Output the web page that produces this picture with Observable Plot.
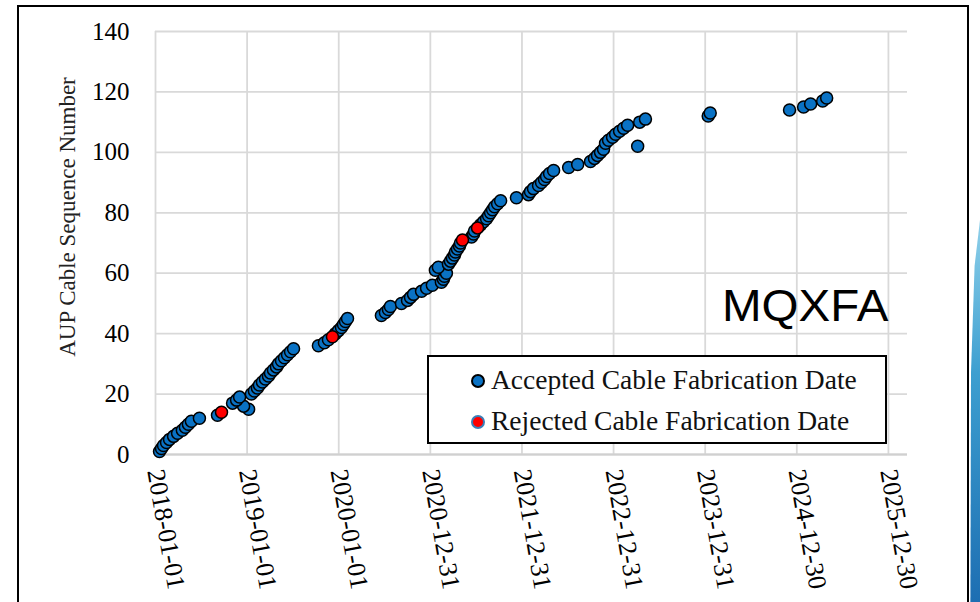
<!DOCTYPE html>
<html>
<head>
<meta charset="utf-8">
<script src="https://cdn.jsdelivr.net/npm/d3@7"></script>
<script src="https://cdn.jsdelivr.net/npm/@observablehq/plot@0.6"></script>
<style>
  html, body { margin: 0; padding: 0; background: #fff; }
  #wrap { position: relative; width: 980px; height: 602px; overflow: hidden; font-family: "Liberation Serif", "Times New Roman", serif; }
  #wrap svg { position: absolute; left: 0; top: 0; font-family: "Liberation Serif", "Times New Roman", serif !important; }
  #wrap svg text { font-family: "Liberation Serif", "Times New Roman", serif !important; fill: #000; }
  #wrap svg g[aria-label="x-axis tick label"] { font-size: 26px !important; }
  #wrap svg g[aria-label="y-axis tick label"] { font-size: 25px !important; }
  .frame { position: absolute; left: 17px; top: 5px; width: 952px; height: 640px; border: 2px solid #000; box-sizing: border-box; pointer-events: none; }
  .ytitle { position: absolute; left: 68px; top: 217px; transform: translate(-50%, -50%) rotate(-90deg); white-space: nowrap; font-size: 23px; color: #222; }
  .legend { position: absolute; left: 427px; top: 355px; width: 460px; height: 89px; border: 2px solid #000; box-sizing: border-box; background: #fff; font-size: 27.5px; color: #111; }
  .legend .row { position: absolute; left: 42px; height: 30px; line-height: 30px; white-space: nowrap; }
  .legend .sw { display: inline-block; width: 10px; height: 10px; border-radius: 50%; vertical-align: middle; margin-right: 6px; position: relative; top: -2px; }
  .mq { position: absolute; left: 722px; top: 281px; font-family: "Liberation Sans", Arial, sans-serif; font-size: 44px; color: #000; transform: scaleX(1.08); transform-origin: 0 0; }
  .deco { position: absolute; left: 968px; top: 220px; width: 12px; height: 382px; background: linear-gradient(180deg, #8fd0ea 0%, #3d9fd0 40%, #1d6eb2 100%); clip-path: polygon(100% 0, 100% 100%, 20% 100%, 25% 40%, 55% 12%); }
</style>
</head>
<body>
<div id="wrap"></div>
<script>
// ---- data ----
const acceptedDates = [
  "2018-01-17","2018-01-25","2018-02-02","2018-02-14","2018-02-26","2018-03-14","2018-03-30","2018-04-18","2018-04-30","2018-05-12",
  "2018-05-24","2018-06-25","2018-09-05","2019-01-07","2018-12-18","2018-11-04","2018-11-20","2018-12-02","2019-01-18","2019-01-30",
  "2019-02-11","2019-02-19","2019-03-03","2019-03-15","2019-03-27","2019-04-04","2019-04-16","2019-04-28","2019-05-06","2019-05-18",
  "2019-05-30","2019-06-11","2019-06-23","2019-07-05","2019-10-12","2019-11-05","2019-11-21","2019-12-19","2019-12-31","2020-01-12",
  "2020-01-20","2020-01-28","2020-02-05","2020-06-19","2020-07-05","2020-07-17","2020-07-25","2020-09-07","2020-10-01","2020-10-13",
  "2020-10-25","2020-11-26","2020-12-16","2021-01-08","2021-02-13","2021-02-21","2021-02-25","2021-03-05","2021-01-20","2021-02-01",
  "2021-03-13","2021-03-21","2021-03-29","2021-04-06","2021-04-10","2021-04-18","2021-04-26","2021-04-30","2021-06-13","2021-06-21",
  "2021-06-25","2021-07-19","2021-07-31","2021-08-12","2021-08-20","2021-08-28","2021-09-05","2021-09-13","2021-09-25","2021-10-07",
  "2021-12-09","2022-01-26","2022-02-03","2022-02-15","2022-03-07","2022-03-19","2022-03-31","2022-04-08","2022-04-20","2022-05-06",
  "2022-07-05","2022-08-10","2022-09-30","2022-10-16","2022-10-28","2022-11-09","2022-11-21","2023-04-06","2022-11-29","2022-12-11",
  "2022-12-27","2023-01-08","2023-01-24","2023-02-09","2023-02-25","2023-04-14","2023-05-07","2024-01-12","2024-01-20","2024-12-01",
  "2025-01-26","2025-02-23","2025-04-12","2025-04-28"
];
const acceptedSeq = [
  1,2,3,4,5,6,7,8,9,10,
  11,12,13,15,16,17,18,19,20,21,
  22,23,24,25,26,27,28,29,30,31,
  32,33,34,35,36,37,38,40,41,42,
  43,44,45,46,47,48,49,50,51,52,
  53,54,55,56,57,58,59,60,61,62,
  63,64,65,66,67,68,69,70,72,73,
  74,76,77,78,79,80,81,82,83,84,
  85,86,87,88,89,90,91,92,93,94,
  95,96,97,98,99,100,101,102,103,104,
  105,106,107,108,109,110,111,112,113,114,
  115,116,117,118
];
const rejectedDates = ["2018-09-21","2019-12-07","2021-05-08","2021-07-07"];
const rejectedSeq = [14, 39, 71, 75];

const xTickDates = ["2018-01-01","2019-01-01","2020-01-01","2020-12-31","2021-12-31","2022-12-31","2023-12-31","2024-12-30","2025-12-30"];
const xDomain = ["2018-01-01","2026-03-16"];
const yTicks = [0,20,40,60,80,100,120,140];
const yTitle = "AUP Cable Sequence Number";
const seriesNames = ["Accepted Cable Fabrication Date","Rejected Cable Fabrication Date"];
const chartTag = "MQXFA";

// ---- build tables ----
const parse = d3.utcParse("%Y-%m-%d");
const accepted = acceptedDates.map((d, i) => ({date: parse(d), seq: acceptedSeq[i]}));
const rejected = rejectedDates.map((d, i) => ({date: parse(d), seq: rejectedSeq[i]}));
const xt = xTickDates.map(parse);
const fmt = d3.utcFormat("%Y-%m-%d");

const plot = Plot.plot({
  width: 980,
  height: 602,
  marginLeft: 155,
  marginRight: 73,
  marginTop: 31,
  marginBottom: 148,
  style: {background: "transparent", fontFamily: "Liberation Serif"},
  x: {type: "utc", domain: xDomain.map(parse)},
  y: {domain: [0, 140]},
  marks: [
    Plot.gridX(xt, {stroke: "#d9d9d9", strokeOpacity: 1, strokeWidth: 1.8}),
    Plot.gridY(yTicks, {stroke: "#d9d9d9", strokeOpacity: 1, strokeWidth: 1.8}),
    Plot.ruleY([0], {stroke: "#d0d0d0", strokeWidth: 2.2}),
    Plot.axisX({ticks: xt, tickFormat: fmt, tickSize: 0, tickPadding: 15, tickRotate: 80, label: null}),
    Plot.axisY({ticks: yTicks, tickSize: 0, tickPadding: 26, label: null}),
    Plot.dot(accepted, {x: "date", y: "seq", r: 6, fill: "#0a72c4", stroke: "#000", strokeWidth: 1.5}),
    Plot.dot(rejected, {x: "date", y: "seq", r: 6, fill: "#ff0000", stroke: "#000", strokeWidth: 1.5})
  ]
});

const wrap = document.getElementById("wrap");
wrap.appendChild(plot);

const title = document.createElement("div");
title.className = "ytitle";
title.textContent = yTitle;
wrap.appendChild(title);

const tag = document.createElement("div");
tag.className = "mq";
tag.textContent = chartTag;
wrap.appendChild(tag);

const legend = document.createElement("div");
legend.className = "legend";
const sw = [{fill: "#0a72c4", stroke: "#000"}, {fill: "#ff0000", stroke: "#3a7fb8"}];
seriesNames.forEach((name, i) => {
  const row = document.createElement("div");
  row.className = "row";
  row.style.top = (i === 0 ? 8 : 49) + "px";
  const s = document.createElement("span");
  s.className = "sw";
  s.style.background = sw[i].fill;
  s.style.border = "2px solid " + sw[i].stroke;
  row.appendChild(s);
  row.appendChild(document.createTextNode(name));
  legend.appendChild(row);
});
wrap.appendChild(legend);

const frame = document.createElement("div");
frame.className = "frame";
wrap.appendChild(frame);

const deco = document.createElement("div");
deco.className = "deco";
wrap.appendChild(deco);
</script>
</body>
</html>
